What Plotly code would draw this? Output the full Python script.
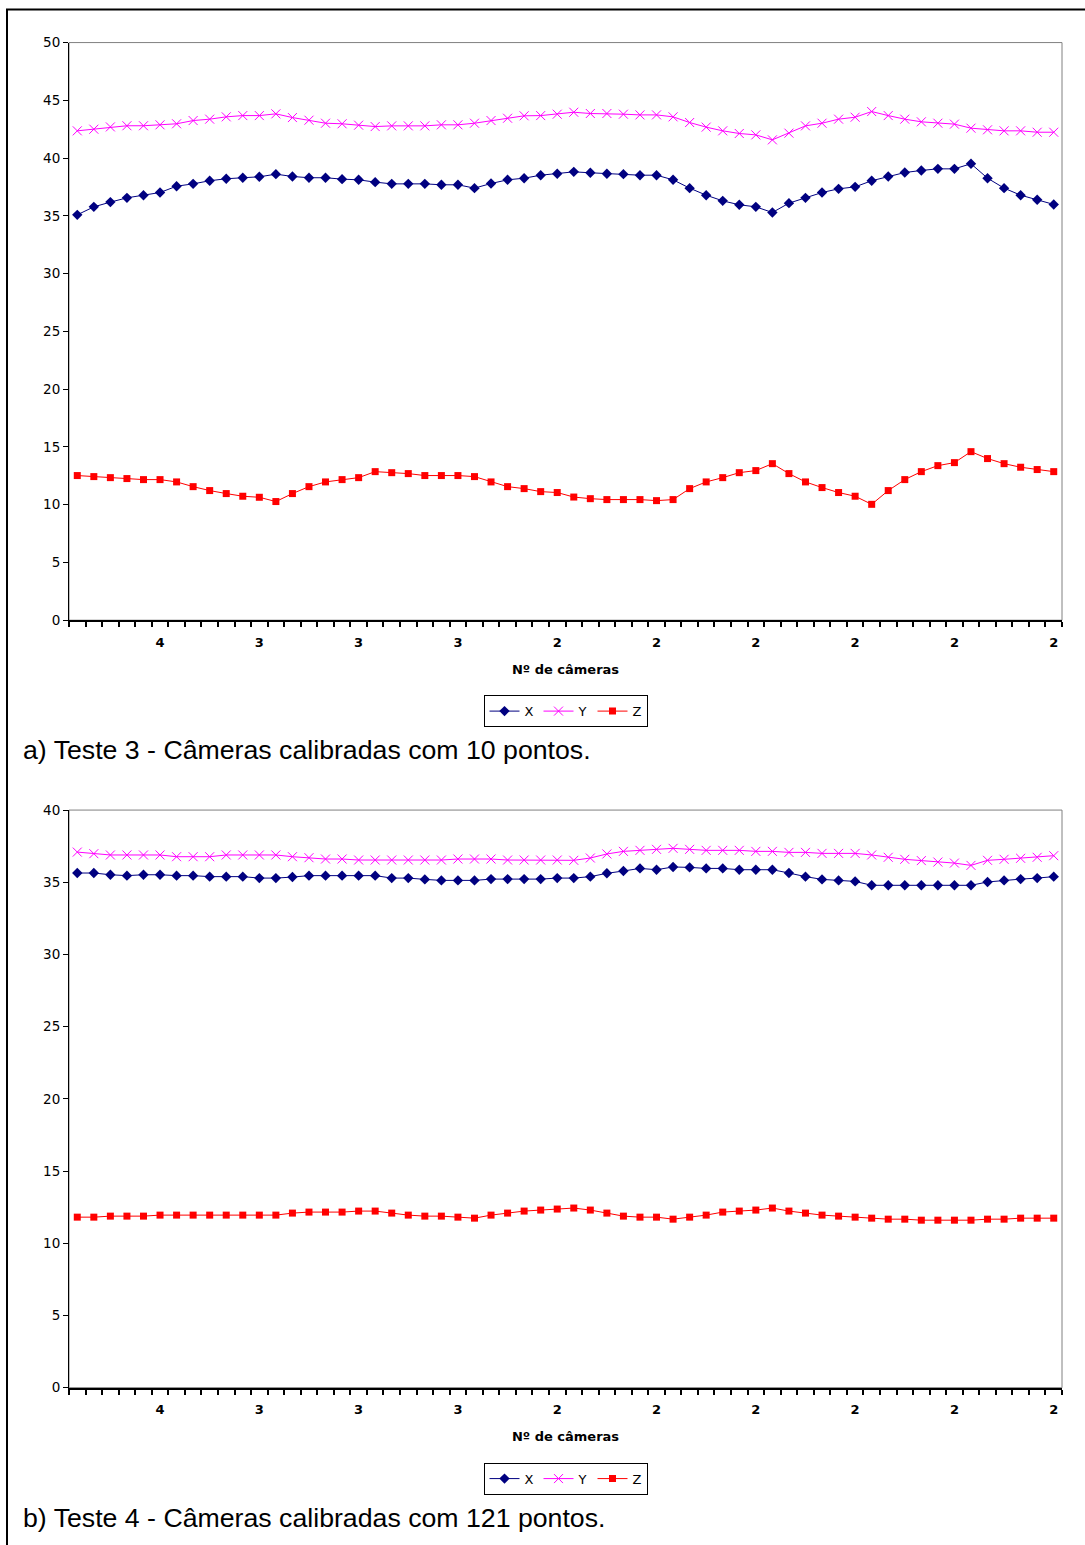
import plotly.graph_objects as go

# ---------------- data ----------------
idx = list(range(60))
tick_pos = [5, 11, 17, 23, 29, 35, 41, 47, 53, 59]
tick_labels = ["4", "3", "3", "3", "2", "2", "2", "2", "2", "2"]

top_X = [35.09, 35.78, 36.19, 36.56, 36.79, 37.02, 37.57, 37.77, 38.04, 38.21,
         38.30, 38.38, 38.61, 38.41, 38.30, 38.30, 38.18, 38.12, 37.92, 37.77,
         37.77, 37.77, 37.69, 37.69, 37.40, 37.80, 38.12, 38.26, 38.52, 38.64,
         38.81, 38.73, 38.64, 38.61, 38.52, 38.52, 38.12, 37.40, 36.79, 36.30,
         35.96, 35.78, 35.29, 36.10, 36.56, 37.02, 37.34, 37.51, 38.04, 38.41,
         38.75, 38.93, 39.07, 39.07, 39.51, 38.26, 37.40, 36.79, 36.39, 35.99]
top_Y = [42.36, 42.50, 42.70, 42.80, 42.80, 42.88, 42.97, 43.25, 43.37, 43.57,
         43.68, 43.68, 43.83, 43.51, 43.28, 43.02, 42.97, 42.85, 42.73, 42.79,
         42.79, 42.79, 42.88, 42.88, 43.02, 43.25, 43.45, 43.66, 43.68, 43.80,
         43.97, 43.86, 43.86, 43.80, 43.74, 43.74, 43.57, 43.08, 42.68, 42.36,
         42.13, 42.01, 41.58, 42.16, 42.79, 43.02, 43.37, 43.54, 44.03, 43.68,
         43.37, 43.14, 43.02, 42.94, 42.59, 42.45, 42.36, 42.36, 42.24, 42.24]
top_Z = [12.52, 12.43, 12.34, 12.26, 12.17, 12.17, 11.97, 11.56, 11.22, 10.96,
         10.73, 10.64, 10.27, 10.96, 11.56, 11.97, 12.17, 12.34, 12.86, 12.77,
         12.69, 12.52, 12.52, 12.52, 12.43, 11.97, 11.56, 11.39, 11.13, 11.05,
         10.66, 10.52, 10.44, 10.44, 10.44, 10.35, 10.44, 11.39, 11.97, 12.34,
         12.77, 12.95, 13.55, 12.69, 11.97, 11.48, 11.05, 10.73, 10.03, 11.22,
         12.17, 12.86, 13.38, 13.64, 14.59, 13.99, 13.55, 13.24, 13.04, 12.86]

bot_X = [35.64, 35.64, 35.52, 35.46, 35.52, 35.52, 35.46, 35.46, 35.39, 35.39,
         35.39, 35.29, 35.29, 35.36, 35.46, 35.46, 35.46, 35.46, 35.46, 35.29,
         35.29, 35.20, 35.13, 35.13, 35.13, 35.22, 35.22, 35.22, 35.22, 35.29,
         35.29, 35.39, 35.62, 35.78, 35.96, 35.87, 36.06, 36.03, 35.96, 35.96,
         35.87, 35.87, 35.87, 35.64, 35.39, 35.20, 35.13, 35.06, 34.79, 34.79,
         34.79, 34.79, 34.79, 34.79, 34.79, 35.02, 35.13, 35.22, 35.29, 35.39]
bot_Y = [37.09, 36.98, 36.89, 36.89, 36.89, 36.89, 36.77, 36.77, 36.77, 36.89,
         36.89, 36.89, 36.89, 36.77, 36.70, 36.61, 36.61, 36.54, 36.54, 36.54,
         36.54, 36.54, 36.54, 36.61, 36.61, 36.61, 36.54, 36.54, 36.54, 36.54,
         36.52, 36.68, 36.96, 37.14, 37.21, 37.28, 37.35, 37.28, 37.21, 37.21,
         37.21, 37.14, 37.14, 37.07, 37.07, 37.00, 37.00, 37.00, 36.89, 36.73,
         36.59, 36.50, 36.40, 36.33, 36.17, 36.52, 36.59, 36.66, 36.73, 36.84]
bot_Z = [11.81, 11.81, 11.88, 11.88, 11.88, 11.95, 11.95, 11.95, 11.95, 11.95,
         11.95, 11.95, 11.95, 12.09, 12.16, 12.16, 12.16, 12.23, 12.23, 12.09,
         11.95, 11.88, 11.88, 11.81, 11.74, 11.95, 12.09, 12.23, 12.30, 12.37,
         12.44, 12.30, 12.09, 11.88, 11.81, 11.81, 11.67, 11.81, 11.95, 12.16,
         12.23, 12.30, 12.44, 12.23, 12.09, 11.95, 11.88, 11.81, 11.74, 11.67,
         11.67, 11.60, 11.60, 11.60, 11.60, 11.67, 11.67, 11.74, 11.74, 11.74]

top_caption = "a) Teste 3 - Câmeras calibradas com 10 pontos."
bot_caption = "b) Teste 4 - Câmeras calibradas com 121 pontos."
x_title = "Nº de câmeras"

# ---------------- figure ----------------
W, H = 1085, 1545
def px(x):
    return x / W
def py(y):
    # vertical calibration of the rendered page
    ys = (y - 6.4) / 0.9903
    return 1 - ys / H

NAVY = "#000080"
MAG = "#FF00FF"
RED = "#FF0000"

fig = go.Figure()

def add_series(xaxis, yaxis, legend, X, Y, Z):
    fig.add_trace(go.Scatter(x=idx, y=X, name="X", mode="lines+markers",
                             xaxis=xaxis, yaxis=yaxis, legend=legend,
                             line=dict(color=NAVY, width=1),
                             marker=dict(symbol="diamond", size=8, color=NAVY)))
    fig.add_trace(go.Scatter(x=idx, y=Y, name="Y", mode="lines+markers",
                             xaxis=xaxis, yaxis=yaxis, legend=legend,
                             line=dict(color=MAG, width=1),
                             marker=dict(symbol="x-thin", size=9, color=MAG,
                                         line=dict(color=MAG, width=1))))
    fig.add_trace(go.Scatter(x=idx, y=Z, name="Z", mode="lines+markers",
                             xaxis=xaxis, yaxis=yaxis, legend=legend,
                             line=dict(color=RED, width=1),
                             marker=dict(symbol="square", size=7, color=RED)))

add_series("x", "y", "legend", top_X, top_Y, top_Z)
add_series("x2", "y2", "legend2", bot_X, bot_Y, bot_Z)

FONT = "DejaVu Sans"
xdomain = [px(69), px(1062)]

def xaxis_cfg(anchor):
    return dict(
        domain=xdomain, anchor=anchor, range=[-0.5, 59.5],
        tickmode="array", tickvals=tick_pos, ticktext=tick_labels,
        ticks="", ticklabelstandoff=9,
        tickfont=dict(family=FONT, size=13, color="black", weight="bold"),
        showline=True, linecolor="black", linewidth=2,
        showgrid=False, zeroline=False,
        minor=dict(tickmode="linear", tick0=-0.5, dtick=1, ticks="outside",
                   ticklen=5, tickwidth=2, tickcolor="black", showgrid=False),
        title=dict(text=x_title, standoff=16,
                   font=dict(family=FONT, size=13, color="black", weight="bold")),
    )

def yaxis_cfg(anchor, domain, top):
    return dict(
        domain=domain, anchor=anchor, range=[0, top],
        tickmode="linear", tick0=0, dtick=5,
        ticks="outside", ticklen=5, tickwidth=1, tickcolor="black",
        tickfont=dict(family=FONT, size=13.5, color="black"),
        showline=True, linecolor="black", linewidth=1,
        showgrid=False, zeroline=False,
    )

legend_common = dict(orientation="h", xanchor="center", yanchor="top",
                     bordercolor="black", borderwidth=1, bgcolor="white",
                     font=dict(family=FONT, size=13, color="black"),
                     itemwidth=30, tracegroupgap=0)

fig.update_layout(
    width=W, height=H,
    margin=dict(l=0, r=0, t=0, b=0),
    paper_bgcolor="white", plot_bgcolor="white",
    showlegend=True,
    xaxis=xaxis_cfg("y"),
    yaxis=yaxis_cfg("x", [py(619), py(41)], 50),
    xaxis2=xaxis_cfg("y2"),
    yaxis2=yaxis_cfg("x2", [py(1387), py(809)], 40),
    legend=dict(x=px(565.5), y=py(694), **legend_common),
    legend2=dict(x=px(565.5), y=py(1462), **legend_common),
    annotations=[
        dict(text=top_caption, xref="paper", yref="paper", x=px(21), y=py(749),
             xanchor="left", yanchor="middle", showarrow=False,
             font=dict(family="Liberation Sans", size=26.7, color="black")),
        dict(text=bot_caption, xref="paper", yref="paper", x=px(21), y=py(1517),
             xanchor="left", yanchor="middle", showarrow=False,
             font=dict(family="Liberation Sans", size=26.7, color="black")),
    ],
    shapes=[
        # outer frame (left and top edges visible)
        dict(type="rect", xref="paper", yref="paper", x0=px(7), x1=1.02,
             y0=-0.02, y1=py(8), line=dict(color="black", width=2), layer="below"),
        # plot area frames (grey top/right)
        dict(type="rect", xref="paper", yref="paper", x0=px(69), x1=px(1062),
             y0=py(619), y1=py(41), line=dict(color="#808080", width=1), layer="below"),
        dict(type="rect", xref="paper", yref="paper", x0=px(69), x1=px(1062),
             y0=py(1387), y1=py(809), line=dict(color="#808080", width=1), layer="below"),
    ],
)

fig.write_html("out.html")
